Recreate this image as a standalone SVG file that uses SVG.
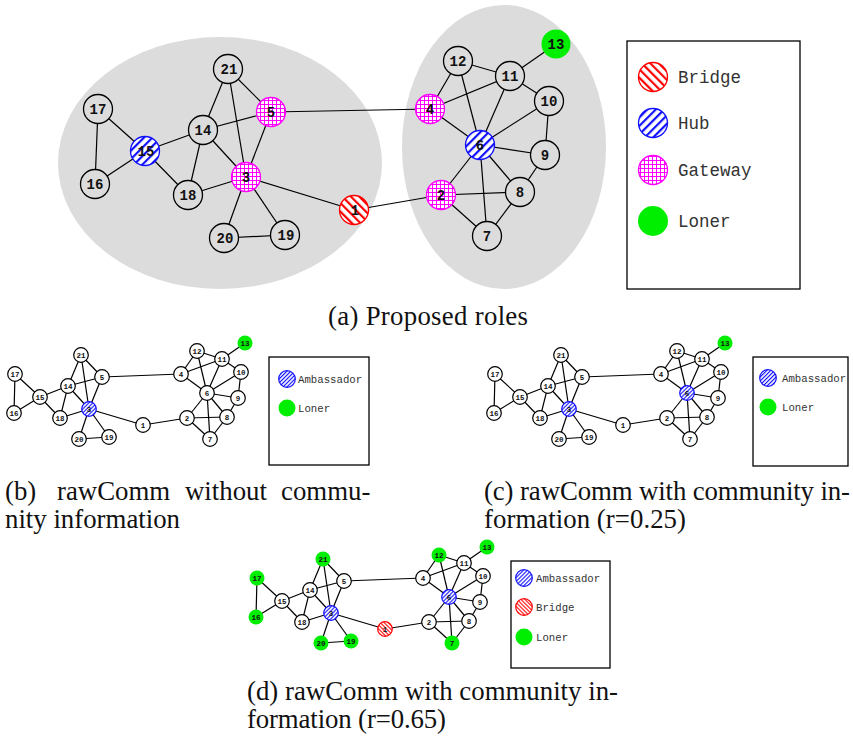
<svg xmlns="http://www.w3.org/2000/svg" xmlns:xlink="http://www.w3.org/1999/xlink" width="853" height="737" viewBox="0 0 853 737">
<style>
.bg{fill:#dcdcdc}
.e line{stroke:#000;stroke-width:1.2}
.n circle{stroke:#000;stroke-width:1.3}
.plain{fill:#dcdcdc}
.hubA{fill:url(#hubA);stroke:#1010ff !important}
.gwA{fill:url(#gwA);stroke:#ff00ff !important}
.brA{fill:url(#brA);stroke:#ff0000 !important}
.lon{fill:#00ee00;stroke:none !important}
.lbl{font-family:"Liberation Mono","DejaVu Sans Mono",monospace;font-weight:bold;font-size:14px;text-anchor:middle;fill:#111}
.sn circle{stroke:#000;stroke-width:1.2;fill:#fff}
.sn .amb{fill:url(#hubS);stroke:#1010ff}
.sn .brg{fill:url(#brS);stroke:#ff0000}
.sn .lon{fill:#00ee00;stroke:none}
.slbl{font-family:"Liberation Mono","DejaVu Sans Mono",monospace;font-weight:bold;font-size:7.5px;text-anchor:middle;fill:#111}
.box{fill:#fff;stroke:#000;stroke-width:1.3}
.lt{font-family:"Liberation Mono","DejaVu Sans Mono",monospace;fill:#333}
.cap{font-family:"Liberation Serif","Times New Roman",serif;font-size:26.8px;fill:#111}
</style>
<defs>
<pattern id="hubA" width="6" height="6" patternUnits="userSpaceOnUse" patternTransform="rotate(45)"><rect width="6" height="6" fill="#fff"/><rect width="2.2" height="6" fill="#1010ff"/></pattern>
<pattern id="brA" width="6" height="6" patternUnits="userSpaceOnUse" patternTransform="rotate(-45)"><rect width="6" height="6" fill="#fff"/><rect width="2.2" height="6" fill="#ff0000"/></pattern>
<pattern id="gwA" width="4" height="4" patternUnits="userSpaceOnUse"><rect width="4" height="4" fill="#fff"/><rect width="1" height="4" fill="#ff00ff"/><rect width="4" height="1" fill="#ff00ff"/></pattern>
<pattern id="hubS" width="2.8" height="2.8" patternUnits="userSpaceOnUse" patternTransform="rotate(45)"><rect width="2.8" height="2.8" fill="#fff"/><rect width="1.1" height="2.8" fill="#1010ff"/></pattern>
<pattern id="brS" width="2.8" height="2.8" patternUnits="userSpaceOnUse" patternTransform="rotate(-45)"><rect width="2.8" height="2.8" fill="#fff"/><rect width="1.1" height="2.8" fill="#ff0000"/></pattern>
<g id="smallEdges" stroke="#000" stroke-width="1.2" fill="none">
<line x1="15" y1="374" x2="40" y2="397"/>
<line x1="15" y1="374" x2="14" y2="413"/>
<line x1="14" y1="413" x2="40" y2="397"/>
<line x1="40" y1="397" x2="68" y2="386"/>
<line x1="40" y1="397" x2="60" y2="418"/>
<line x1="81" y1="355" x2="68" y2="386"/>
<line x1="81" y1="355" x2="102" y2="377"/>
<line x1="81" y1="355" x2="89" y2="409"/>
<line x1="68" y1="386" x2="102" y2="377"/>
<line x1="68" y1="386" x2="89" y2="409"/>
<line x1="68" y1="386" x2="60" y2="418"/>
<line x1="60" y1="418" x2="89" y2="409"/>
<line x1="102" y1="377" x2="89" y2="409"/>
<line x1="102" y1="377" x2="181" y2="374"/>
<line x1="89" y1="409" x2="79" y2="439"/>
<line x1="89" y1="409" x2="109" y2="437"/>
<line x1="89" y1="409" x2="143" y2="425"/>
<line x1="79" y1="439" x2="109" y2="437"/>
<line x1="143" y1="425" x2="187" y2="418"/>
<line x1="181" y1="374" x2="197" y2="351"/>
<line x1="181" y1="374" x2="222" y2="359"/>
<line x1="181" y1="374" x2="207" y2="393"/>
<line x1="197" y1="351" x2="222" y2="359"/>
<line x1="197" y1="351" x2="207" y2="393"/>
<line x1="222" y1="359" x2="245" y2="343"/>
<line x1="222" y1="359" x2="241" y2="372"/>
<line x1="222" y1="359" x2="207" y2="393"/>
<line x1="241" y1="372" x2="207" y2="393"/>
<line x1="241" y1="372" x2="238" y2="398"/>
<line x1="207" y1="393" x2="238" y2="398"/>
<line x1="207" y1="393" x2="227" y2="417"/>
<line x1="207" y1="393" x2="210" y2="439"/>
<line x1="207" y1="393" x2="187" y2="418"/>
<line x1="238" y1="398" x2="227" y2="417"/>
<line x1="227" y1="417" x2="187" y2="418"/>
<line x1="227" y1="417" x2="210" y2="439"/>
<line x1="187" y1="418" x2="210" y2="439"/>
</g>
</defs>
<rect width="853" height="737" fill="#fff"/>

<!-- (a) -->
<g id="communities">
<ellipse class="bg" cx="220" cy="163" rx="162" ry="126"/>
<ellipse class="bg" cx="504" cy="147" rx="102" ry="142"/>
</g>
<g id="a-edges" class="e">
<line x1="98" y1="109" x2="145" y2="151"/>
<line x1="98" y1="109" x2="95" y2="184"/>
<line x1="95" y1="184" x2="145" y2="151"/>
<line x1="145" y1="151" x2="203" y2="130"/>
<line x1="145" y1="151" x2="188" y2="195"/>
<line x1="228" y1="69" x2="203" y2="130"/>
<line x1="228" y1="69" x2="271" y2="112"/>
<line x1="228" y1="69" x2="246" y2="177"/>
<line x1="203" y1="130" x2="271" y2="112"/>
<line x1="203" y1="130" x2="246" y2="177"/>
<line x1="203" y1="130" x2="188" y2="195"/>
<line x1="188" y1="195" x2="246" y2="177"/>
<line x1="271" y1="112" x2="246" y2="177"/>
<line x1="271" y1="112" x2="430" y2="109"/>
<line x1="246" y1="177" x2="224" y2="238"/>
<line x1="246" y1="177" x2="285" y2="235"/>
<line x1="246" y1="177" x2="354" y2="210"/>
<line x1="224" y1="238" x2="285" y2="235"/>
<line x1="354" y1="210" x2="441" y2="195"/>
<line x1="430" y1="109" x2="458" y2="61"/>
<line x1="430" y1="109" x2="510" y2="76"/>
<line x1="430" y1="109" x2="480" y2="145"/>
<line x1="458" y1="61" x2="510" y2="76"/>
<line x1="458" y1="61" x2="480" y2="145"/>
<line x1="510" y1="76" x2="556" y2="44"/>
<line x1="510" y1="76" x2="549" y2="101"/>
<line x1="510" y1="76" x2="480" y2="145"/>
<line x1="549" y1="101" x2="480" y2="145"/>
<line x1="549" y1="101" x2="545" y2="155"/>
<line x1="480" y1="145" x2="545" y2="155"/>
<line x1="480" y1="145" x2="520" y2="192"/>
<line x1="480" y1="145" x2="487" y2="236"/>
<line x1="480" y1="145" x2="441" y2="195"/>
<line x1="545" y1="155" x2="520" y2="192"/>
<line x1="520" y1="192" x2="441" y2="195"/>
<line x1="520" y1="192" x2="487" y2="236"/>
<line x1="441" y1="195" x2="487" y2="236"/>
</g>
<g id="a-n1" class="n"><circle cx="354" cy="210" r="14.5" class="brA"/><text class="lbl" x="355" y="215">1</text></g>
<g id="a-n2" class="n"><circle cx="441" cy="195" r="14.5" class="gwA"/><text class="lbl" x="441" y="200">2</text></g>
<g id="a-n3" class="n"><circle cx="246" cy="177" r="14.5" class="gwA"/><text class="lbl" x="246" y="182">3</text></g>
<g id="a-n4" class="n"><circle cx="430" cy="109" r="14.5" class="gwA"/><text class="lbl" x="430" y="114">4</text></g>
<g id="a-n5" class="n"><circle cx="271" cy="112" r="14.5" class="gwA"/><text class="lbl" x="271" y="117">5</text></g>
<g id="a-n6" class="n"><circle cx="480" cy="145" r="14.5" class="hubA"/><text class="lbl" x="480" y="150">6</text></g>
<g id="a-n7" class="n"><circle cx="487" cy="236" r="14.5" class="plain"/><text class="lbl" x="487" y="241">7</text></g>
<g id="a-n8" class="n"><circle cx="520" cy="192" r="14.5" class="plain"/><text class="lbl" x="520" y="197">8</text></g>
<g id="a-n9" class="n"><circle cx="545" cy="155" r="14.5" class="plain"/><text class="lbl" x="545" y="160">9</text></g>
<g id="a-n10" class="n"><circle cx="549" cy="101" r="14.5" class="plain"/><text class="lbl" x="549" y="106">10</text></g>
<g id="a-n11" class="n"><circle cx="510" cy="76" r="14.5" class="plain"/><text class="lbl" x="510" y="81">11</text></g>
<g id="a-n12" class="n"><circle cx="458" cy="61" r="14.5" class="plain"/><text class="lbl" x="458" y="66">12</text></g>
<g id="a-n13" class="n"><circle cx="556" cy="44" r="14.5" class="lon"/><text class="lbl" x="556" y="49">13</text></g>
<g id="a-n14" class="n"><circle cx="203" cy="130" r="14.5" class="plain"/><text class="lbl" x="203" y="135">14</text></g>
<g id="a-n15" class="n"><circle cx="145" cy="151" r="14.5" class="hubA"/><text class="lbl" x="146" y="156">15</text></g>
<g id="a-n16" class="n"><circle cx="95" cy="184" r="14.5" class="plain"/><text class="lbl" x="95" y="189">16</text></g>
<g id="a-n17" class="n"><circle cx="98" cy="109" r="14.5" class="plain"/><text class="lbl" x="98" y="114">17</text></g>
<g id="a-n18" class="n"><circle cx="188" cy="195" r="14.5" class="plain"/><text class="lbl" x="188" y="200">18</text></g>
<g id="a-n19" class="n"><circle cx="285" cy="235" r="14.5" class="plain"/><text class="lbl" x="286" y="240">19</text></g>
<g id="a-n20" class="n"><circle cx="224" cy="238" r="14.5" class="plain"/><text class="lbl" x="225" y="243">20</text></g>
<g id="a-n21" class="n"><circle cx="228" cy="69" r="14.5" class="plain"/><text class="lbl" x="229" y="74">21</text></g>

<g id="a-legend">
<rect class="box" x="627" y="41" width="173" height="248"/>
<circle cx="653" cy="77" r="14.5" fill="url(#brA)" stroke="#ff0000" stroke-width="1.3"/>
<text class="lt" x="678" y="82.5" font-size="17.5">Bridge</text>
<circle cx="653" cy="123" r="14.5" fill="url(#hubA)" stroke="#1010ff" stroke-width="1.3"/>
<text class="lt" x="678" y="128.5" font-size="17.5">Hub</text>
<circle cx="653" cy="170" r="14.5" fill="url(#gwA)" stroke="#ff00ff" stroke-width="1.3"/>
<text class="lt" x="678" y="175.5" font-size="17.5">Gateway</text>
<circle cx="653" cy="221" r="15" fill="#00ee00"/>
<text class="lt" x="678" y="226.5" font-size="17.5">Loner</text>
</g>
<text class="cap" x="328" y="325" textLength="200">(a) Proposed roles</text>

<!-- (b) -->
<g id="b-edges" class="e"><use xlink:href="#smallEdges" href="#smallEdges"/></g>
<g id="fig-b" class="sn">
<g id="b-n1"><circle cx="143" cy="425" r="7.3"/><text class="slbl" x="143" y="427.7">1</text></g>
<g id="b-n2"><circle cx="187" cy="418" r="7.3"/><text class="slbl" x="187" y="420.7">2</text></g>
<g id="b-n3"><circle cx="89" cy="409" r="7.3" class="amb"/><text class="slbl" x="89" y="411.7">3</text></g>
<g id="b-n4"><circle cx="181" cy="374" r="7.3"/><text class="slbl" x="181" y="376.7">4</text></g>
<g id="b-n5"><circle cx="102" cy="377" r="7.3"/><text class="slbl" x="102" y="379.7">5</text></g>
<g id="b-n6"><circle cx="207" cy="393" r="7.3"/><text class="slbl" x="207" y="395.7">6</text></g>
<g id="b-n7"><circle cx="210" cy="439" r="7.3"/><text class="slbl" x="210" y="441.7">7</text></g>
<g id="b-n8"><circle cx="227" cy="417" r="7.3"/><text class="slbl" x="227" y="419.7">8</text></g>
<g id="b-n9"><circle cx="238" cy="398" r="7.3"/><text class="slbl" x="238" y="400.7">9</text></g>
<g id="b-n10"><circle cx="241" cy="372" r="7.3"/><text class="slbl" x="241" y="374.7">10</text></g>
<g id="b-n11"><circle cx="222" cy="359" r="7.3"/><text class="slbl" x="222" y="361.7">11</text></g>
<g id="b-n12"><circle cx="197" cy="351" r="7.3"/><text class="slbl" x="197" y="353.7">12</text></g>
<g id="b-n13"><circle cx="245" cy="343" r="7.5" class="lon"/><text class="slbl" x="245" y="345.7">13</text></g>
<g id="b-n14"><circle cx="68" cy="386" r="7.3"/><text class="slbl" x="68" y="388.7">14</text></g>
<g id="b-n15"><circle cx="40" cy="397" r="7.3"/><text class="slbl" x="40" y="399.7">15</text></g>
<g id="b-n16"><circle cx="14" cy="413" r="7.3"/><text class="slbl" x="14" y="415.7">16</text></g>
<g id="b-n17"><circle cx="15" cy="374" r="7.3"/><text class="slbl" x="15" y="376.7">17</text></g>
<g id="b-n18"><circle cx="60" cy="418" r="7.3"/><text class="slbl" x="60" y="420.7">18</text></g>
<g id="b-n19"><circle cx="109" cy="437" r="7.3"/><text class="slbl" x="109" y="439.7">19</text></g>
<g id="b-n20"><circle cx="79" cy="439" r="7.3"/><text class="slbl" x="79" y="441.7">20</text></g>
<g id="b-n21"><circle cx="81" cy="355" r="7.3"/><text class="slbl" x="81" y="357.7">21</text></g>
</g>
<g id="b-legend">
<rect class="box" x="269" y="357" width="100" height="108"/>
<circle cx="287" cy="379" r="8.3" fill="url(#hubS)" stroke="#1010ff" stroke-width="1.2"/>
<text class="lt" x="298" y="382.5" font-size="10.7">Ambassador</text>
<circle cx="287" cy="408" r="8.5" fill="#00ee00"/>
<text class="lt" x="298" y="411.5" font-size="10.7">Loner</text>
</g>
<text class="cap" y="500"><tspan x="5">(b)</tspan><tspan x="57">rawComm</tspan><tspan x="185">without</tspan><tspan x="281">commu-</tspan></text>
<text class="cap" x="5" y="528" textLength="175">nity information</text>

<!-- (c) -->
<g id="c-edges" class="e" transform="translate(480,0)"><use xlink:href="#smallEdges" href="#smallEdges"/></g>
<g id="fig-c" class="sn" transform="translate(480,0)">
<g id="c-n1"><circle cx="143" cy="425" r="7.3"/><text class="slbl" x="143" y="427.7">1</text></g>
<g id="c-n2"><circle cx="187" cy="418" r="7.3"/><text class="slbl" x="187" y="420.7">2</text></g>
<g id="c-n3"><circle cx="89" cy="409" r="7.3" class="amb"/><text class="slbl" x="89" y="411.7">3</text></g>
<g id="c-n4"><circle cx="181" cy="374" r="7.3"/><text class="slbl" x="181" y="376.7">4</text></g>
<g id="c-n5"><circle cx="102" cy="377" r="7.3"/><text class="slbl" x="102" y="379.7">5</text></g>
<g id="c-n6"><circle cx="207" cy="393" r="7.3" class="amb"/><text class="slbl" x="207" y="395.7">6</text></g>
<g id="c-n7"><circle cx="210" cy="439" r="7.3"/><text class="slbl" x="210" y="441.7">7</text></g>
<g id="c-n8"><circle cx="227" cy="417" r="7.3"/><text class="slbl" x="227" y="419.7">8</text></g>
<g id="c-n9"><circle cx="238" cy="398" r="7.3"/><text class="slbl" x="238" y="400.7">9</text></g>
<g id="c-n10"><circle cx="241" cy="372" r="7.3"/><text class="slbl" x="241" y="374.7">10</text></g>
<g id="c-n11"><circle cx="222" cy="359" r="7.3"/><text class="slbl" x="222" y="361.7">11</text></g>
<g id="c-n12"><circle cx="197" cy="351" r="7.3"/><text class="slbl" x="197" y="353.7">12</text></g>
<g id="c-n13"><circle cx="245" cy="343" r="7.5" class="lon"/><text class="slbl" x="245" y="345.7">13</text></g>
<g id="c-n14"><circle cx="68" cy="386" r="7.3"/><text class="slbl" x="68" y="388.7">14</text></g>
<g id="c-n15"><circle cx="40" cy="397" r="7.3"/><text class="slbl" x="40" y="399.7">15</text></g>
<g id="c-n16"><circle cx="14" cy="413" r="7.3"/><text class="slbl" x="14" y="415.7">16</text></g>
<g id="c-n17"><circle cx="15" cy="374" r="7.3"/><text class="slbl" x="15" y="376.7">17</text></g>
<g id="c-n18"><circle cx="60" cy="418" r="7.3"/><text class="slbl" x="60" y="420.7">18</text></g>
<g id="c-n19"><circle cx="109" cy="437" r="7.3"/><text class="slbl" x="109" y="439.7">19</text></g>
<g id="c-n20"><circle cx="79" cy="439" r="7.3"/><text class="slbl" x="79" y="441.7">20</text></g>
<g id="c-n21"><circle cx="81" cy="355" r="7.3"/><text class="slbl" x="81" y="357.7">21</text></g>
</g>
<g id="c-legend">
<rect class="box" x="753" y="357" width="95" height="109"/>
<circle cx="768" cy="378" r="8.3" fill="url(#hubS)" stroke="#1010ff" stroke-width="1.2"/>
<text class="lt" x="782" y="381.5" font-size="10.7">Ambassador</text>
<circle cx="768" cy="407" r="8.5" fill="#00ee00"/>
<text class="lt" x="782" y="410.5" font-size="10.7">Loner</text>
</g>
<text class="cap" x="484" y="500" textLength="366">(c) rawComm with community in-</text>
<text class="cap" x="484" y="528" textLength="202">formation (r=0.25)</text>

<!-- (d) -->
<g id="d-edges" class="e" transform="translate(242,204)"><use xlink:href="#smallEdges" href="#smallEdges"/></g>
<g id="fig-d" class="sn" transform="translate(242,204)">
<g id="d-n1"><circle cx="143" cy="425" r="7.3" class="brg"/><text class="slbl" x="143" y="427.7">1</text></g>
<g id="d-n2"><circle cx="187" cy="418" r="7.3"/><text class="slbl" x="187" y="420.7">2</text></g>
<g id="d-n3"><circle cx="89" cy="409" r="7.3" class="amb"/><text class="slbl" x="89" y="411.7">3</text></g>
<g id="d-n4"><circle cx="181" cy="374" r="7.3"/><text class="slbl" x="181" y="376.7">4</text></g>
<g id="d-n5"><circle cx="102" cy="377" r="7.3"/><text class="slbl" x="102" y="379.7">5</text></g>
<g id="d-n6"><circle cx="207" cy="393" r="7.3" class="amb"/><text class="slbl" x="207" y="395.7">6</text></g>
<g id="d-n7"><circle cx="210" cy="439" r="7.5" class="lon"/><text class="slbl" x="210" y="441.7">7</text></g>
<g id="d-n8"><circle cx="227" cy="417" r="7.3"/><text class="slbl" x="227" y="419.7">8</text></g>
<g id="d-n9"><circle cx="238" cy="398" r="7.3"/><text class="slbl" x="238" y="400.7">9</text></g>
<g id="d-n10"><circle cx="241" cy="372" r="7.3"/><text class="slbl" x="241" y="374.7">10</text></g>
<g id="d-n11"><circle cx="222" cy="359" r="7.3"/><text class="slbl" x="222" y="361.7">11</text></g>
<g id="d-n12"><circle cx="197" cy="351" r="7.5" class="lon"/><text class="slbl" x="197" y="353.7">12</text></g>
<g id="d-n13"><circle cx="245" cy="343" r="7.5" class="lon"/><text class="slbl" x="245" y="345.7">13</text></g>
<g id="d-n14"><circle cx="68" cy="386" r="7.3"/><text class="slbl" x="68" y="388.7">14</text></g>
<g id="d-n15"><circle cx="40" cy="397" r="7.3"/><text class="slbl" x="40" y="399.7">15</text></g>
<g id="d-n16"><circle cx="14" cy="413" r="7.5" class="lon"/><text class="slbl" x="14" y="415.7">16</text></g>
<g id="d-n17"><circle cx="15" cy="374" r="7.5" class="lon"/><text class="slbl" x="15" y="376.7">17</text></g>
<g id="d-n18"><circle cx="60" cy="418" r="7.3"/><text class="slbl" x="60" y="420.7">18</text></g>
<g id="d-n19"><circle cx="109" cy="437" r="7.5" class="lon"/><text class="slbl" x="109" y="439.7">19</text></g>
<g id="d-n20"><circle cx="79" cy="439" r="7.5" class="lon"/><text class="slbl" x="79" y="441.7">20</text></g>
<g id="d-n21"><circle cx="81" cy="355" r="7.5" class="lon"/><text class="slbl" x="81" y="357.7">21</text></g>
</g>
<g id="d-legend">
<rect class="box" x="511" y="561" width="99" height="107"/>
<circle cx="524" cy="578" r="8.3" fill="url(#hubS)" stroke="#1010ff" stroke-width="1.2"/>
<text class="lt" x="536" y="581.5" font-size="10.7">Ambassador</text>
<circle cx="524" cy="607" r="8.3" fill="url(#brS)" stroke="#ff0000" stroke-width="1.2"/>
<text class="lt" x="536" y="610.5" font-size="10.7">Bridge</text>
<circle cx="524" cy="637" r="8.5" fill="#00ee00"/>
<text class="lt" x="536" y="640.5" font-size="10.7">Loner</text>
</g>
<text class="cap" x="247" y="700" textLength="371">(d) rawComm with community in-</text>
<text class="cap" x="247" y="728" textLength="199">formation (r=0.65)</text>
</svg>
